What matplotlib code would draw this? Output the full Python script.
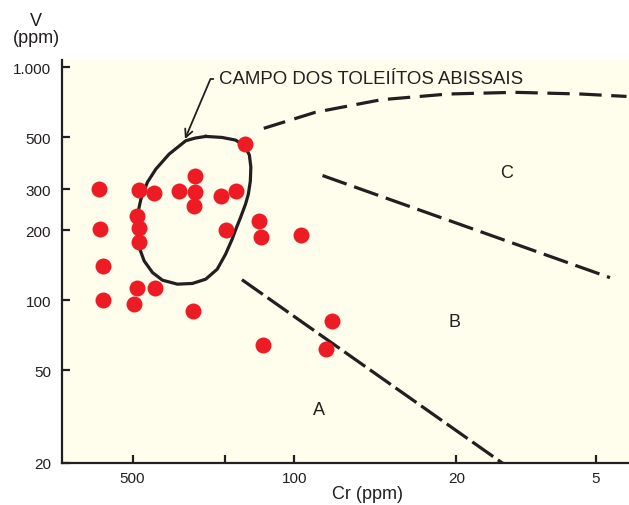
import matplotlib
matplotlib.use('Agg')
import matplotlib.pyplot as plt

plt.rcParams['font.family'] = ['Liberation Sans', 'DejaVu Sans']

# samples: Cr (ppm), V (ppm)
cr = [700, 688, 467, 405, 477, 467, 470, 314, 268, 268, 271, 207, 178, 163,
      198, 142, 140, 94, 668, 670, 477, 402, 492, 273, 137, 68.8, 72.8]
v = [299, 203, 296, 289, 231, 204, 178, 293, 341, 291, 253, 281, 294, 470,
     201, 219, 186, 191, 140, 100.5, 113, 113, 96.3, 89.8, 64.4, 81.6, 61.8]

# field of abyssal tholeiites (closed outline)
field_cr = [241.7, 205.7, 179.6, 163.8, 156.6, 154.3, 155.1, 158.2, 162.7,
            170.9, 179.1, 185.8, 198.4, 215.5, 241.7, 276, 320.3, 371.5,
            410.2, 445.5, 468, 477.4, 477.4, 470.3, 460.2, 431, 396.6, 347.7,
            294.6, 268.7, 241.7]
field_v = [505, 500, 487, 459, 420, 373, 324.7, 285.4, 258.5, 226.7, 201.9,
           182.9, 157.6, 135.9, 123.1, 118, 117.2, 121.9, 131.5, 147.5, 168.5,
           192.1, 218.6, 246.1, 271.6, 321.5, 365.6, 424, 483.8, 496.7, 505]

# dashed boundaries
top_cr = [135.7, 81.3, 42.2, 21.7, 11.2, 5.82, 3.69]
top_v = [547, 641, 726, 768, 781, 768, 750]
bc_cr = [75.7, 4.35]
bc_v = [343, 125]
ab_cr = [168.6, 12.5]
ab_v = [122.5, 19.8]

xticks = [500, 200, 100, 20, 5]
xlabels = ['500', '', '100', '20', '5']
yticks = [1000, 500, 300, 200, 100, 50, 20]
ylabels = ['1.000', '500', '300', '200', '100', '50', '20']

fields = ['A', 'B', 'C']
field_pos = [(78.7, 34.0), (20.3, 81.2), (12.1, 355)]

ink = '#231f20'

fig = plt.figure(figsize=(6.29, 5.06), dpi=100)
ax = fig.add_axes([62/629, 1 - 464/506, 1 - 62/629, (464 - 61)/506])
ax.set_facecolor('#fffdeb')
ax.set_xscale('log')
ax.set_yscale('log')
ax.set_xlim(1008, 3.6)
ax.set_ylim(20, 1075)

ax.plot(field_cr, field_v, color=ink, lw=2.3, zorder=2, solid_joinstyle='round')
ax.plot(top_cr, top_v, color=ink, lw=2.3, dashes=(7, 3), zorder=2)
ax.plot(bc_cr, bc_v, color=ink, lw=2.3, dashes=(8, 2.5), zorder=2)
ax.plot(ab_cr, ab_v, color=ink, lw=2.3, dashes=(8, 1.8), zorder=2)

ax.plot(cr, v, 'o', color='#ed1c24', markersize=11.5, markeredgewidth=0, zorder=3)

for name, (x, y) in zip(fields, field_pos):
    ax.text(x, y, name, fontsize=13, color=ink, ha='center', va='center')

ax.annotate('CAMPO DOS TOLEIÍTOS ABISSAIS', xy=(297, 492), xytext=(212, 891),
            fontsize=13.4, color=ink, ha='left', va='center',
            arrowprops=dict(arrowstyle='->', color=ink, lw=1.3,
                            connectionstyle='angle,angleA=180,angleB=67,rad=0',
                            shrinkA=2, shrinkB=0, mutation_scale=14))

ax.set_xticks(xticks)
ax.set_xticklabels(xlabels)
ax.set_yticks(yticks)
ax.set_yticklabels(ylabels)
ax.minorticks_off()
ax.tick_params(direction='in', length=6, width=1.6, colors=ink, labelsize=11)
ax.tick_params(axis='y', pad=8)
ax.tick_params(axis='x', pad=6)
for s in ['top', 'right']:
    ax.spines[s].set_visible(False)
for s in ['left', 'bottom']:
    ax.spines[s].set_linewidth(1.6)
    ax.spines[s].set_color(ink)

fig.text(36/629, 1 - 30/506, 'V\n(ppm)', fontsize=13, color=ink,
         ha='center', va='center', linespacing=1.0)
fig.text(368/629, 1 - 495/506, 'Cr (ppm)', fontsize=13, color=ink,
         ha='center', va='center')

fig.savefig('out.png', dpi=100)
